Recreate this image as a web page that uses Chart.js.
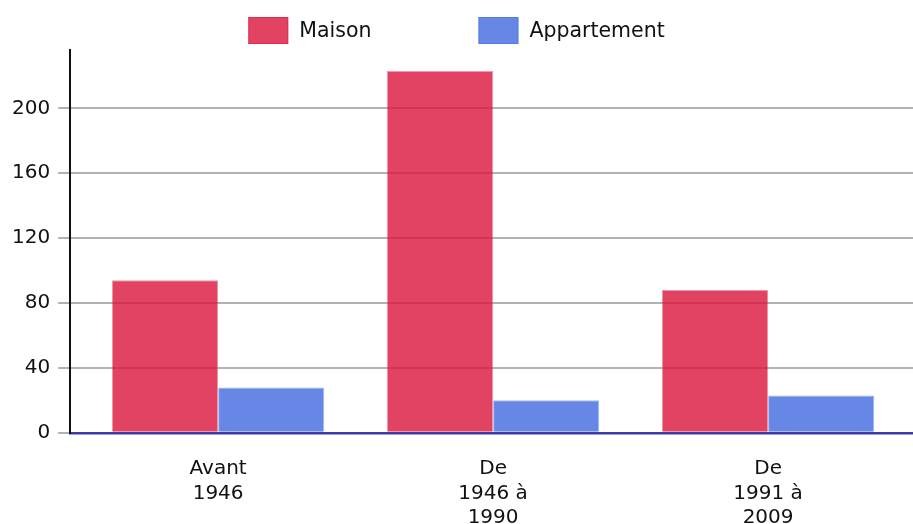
<!DOCTYPE html>
<html>
<head>
<meta charset="utf-8">
<script src="https://cdn.jsdelivr.net/npm/chart.js@4"></script>
<style>
  html, body { margin: 0; padding: 0; background: #fff; }
  #wrap { width: 913px; height: 524px; position: relative; }
</style>
</head>
<body>
<div id="wrap"><canvas id="c"></canvas></div>
<script>
const categories = [["Avant", "1946"], ["De", "1946 à", "1990"], ["De", "1991 à", "2009"]];
const seriesNames = ["Maison", "Appartement"];
const maisonValues = [94, 223, 88];
const appartementValues = [28, 20, 23];
const yTickValues = [0, 40, 80, 120, 160, 200];
const yMax = 236;

const FONT = '"DejaVu Sans", Verdana, sans-serif';
Chart.defaults.font.family = FONT;
Chart.defaults.font.size = 20;
Chart.defaults.color = '#111';

const toPoints = arr => arr.map((v, i) => ({ x: i, y: v }));

const customLegend = {
  id: 'customLegend',
  afterDraw(chart) {
    const ctx = chart.ctx;
    ctx.save();
    ctx.font = '20.5px ' + FONT;
    ctx.textBaseline = 'middle';
    ctx.textAlign = 'left';
    const boxW = 40, boxH = 27, gapText = 11, gapItems = 107, top = 17;
    const ds = chart.data.datasets;
    const widths = ds.map(d => boxW + gapText + ctx.measureText(d.label).width);
    const total = widths.reduce((a, b) => a + b, 0) + gapItems * (ds.length - 1);
    let x = (chart.width - total) / 2;
    ds.forEach((d, i) => {
      ctx.fillStyle = d.backgroundColor;
      ctx.fillRect(x, top, boxW, boxH);
      ctx.strokeStyle = d.borderColor;
      ctx.lineWidth = 1;
      ctx.strokeRect(x + 0.5, top + 0.5, boxW - 1, boxH - 1);
      ctx.fillStyle = '#111';
      ctx.fillText(d.label, x + boxW + gapText, top + boxH / 2 + 1);
      x += widths[i] + gapItems;
    });
    ctx.restore();
  }
};

new Chart(document.getElementById('c'), {
  type: 'bar',
  data: {
    datasets: [
      {
        label: seriesNames[0],
        data: toPoints(maisonValues),
        backgroundColor: 'rgba(220,20,60,0.8)',
        borderColor: 'rgba(220,20,60,0.45)',
        borderWidth: 1
      },
      {
        label: seriesNames[1],
        data: toPoints(appartementValues),
        backgroundColor: 'rgba(65,105,225,0.8)',
        borderColor: 'rgba(65,105,225,0.45)',
        borderWidth: 1
      }
    ]
  },
  options: {
    responsive: true,
    maintainAspectRatio: false,
    animation: false,
    layout: { padding: { top: 50, right: 0, left: 4, bottom: -30 } },
    datasets: { bar: { categoryPercentage: 0.772, barPercentage: 1.0 } },
    plugins: {
      legend: { display: false },
      tooltip: { enabled: false }
    },
    scales: {
      x: {
        type: 'linear',
        z: 1,
        min: -0.538,
        max: 2.527,
        offset: false,
        afterBuildTicks(scale) {
          scale.ticks = categories.map((c, i) => ({ value: i }));
        },
        grid: { display: false, drawTicks: false },
        border: { display: true, color: '#3a3aa8', width: 2.5 },
        ticks: {
          padding: 24, maxRotation: 0, autoSkip: false, color: '#111',
          font: { size: 20, lineHeight: 1.22 },
          callback: (v) => categories[v]
        }
      },
      y: {
        min: 0,
        max: yMax,
        afterBuildTicks(scale) {
          scale.ticks = yTickValues.map(v => ({ value: v }));
        },
        grid: { color: 'rgba(0,0,0,0.3)', lineWidth: 2, tickLength: 12, drawTicks: true },
        border: { display: true, color: '#111', width: 2 },
        ticks: { padding: 8, color: '#111', font: { size: 20 } }
      }
    }
  },
  plugins: [customLegend]
});
</script>
</body>
</html>
